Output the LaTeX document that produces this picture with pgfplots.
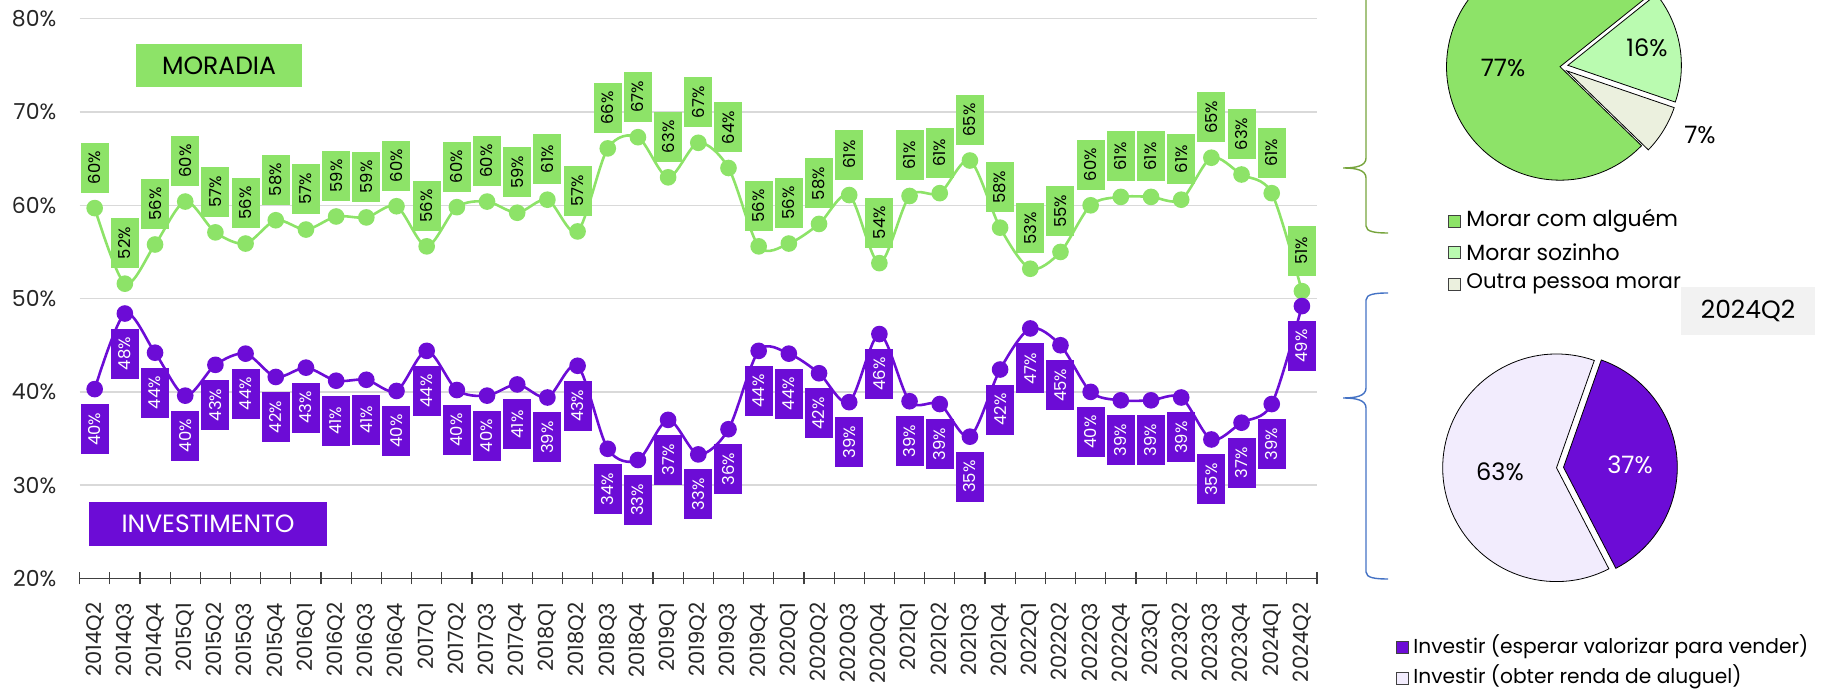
\documentclass[border=0pt]{standalone}
\usepackage{fontspec}
\setmainfont{Poppins}
\usepackage{pgfplots}
\pgfplotsset{compat=1.18}
\usepackage{pgfplotstable}

\definecolor{mgreen}{RGB}{141,227,104}
\definecolor{mpurple}{RGB}{108,12,214}
\definecolor{lgreen}{RGB}{186,251,176}
\definecolor{beige}{RGB}{235,240,222}
\definecolor{lav}{RGB}{242,236,253}
\definecolor{gbr}{RGB}{118,164,60}
\definecolor{bbr}{RGB}{68,114,196}
\definecolor{gridc}{RGB}{217,217,217}
\definecolor{boxg}{RGB}{242,242,242}

\pgfplotstableread{
x mor inv
0 59.7 40.3
1 51.6 48.4
2 55.8 44.2
3 60.4 39.6
4 57.1 42.9
5 55.9 44.1
6 58.4 41.6
7 57.4 42.6
8 58.8 41.2
9 58.7 41.3
10 59.9 40.1
11 55.6 44.4
12 59.8 40.2
13 60.4 39.6
14 59.2 40.8
15 60.6 39.4
16 57.2 42.8
17 66.1 33.9
18 67.3 32.7
19 63.0 37.0
20 66.7 33.3
21 64.0 36.0
22 55.6 44.4
23 55.9 44.1
24 58.0 42.0
25 61.1 38.9
26 53.8 46.2
27 61.0 39.0
28 61.3 38.7
29 64.8 35.2
30 57.6 42.4
31 53.2 46.8
32 55.0 45.0
33 60.0 40.0
34 60.9 39.1
35 60.9 39.1
36 60.6 39.4
37 65.1 34.9
38 63.3 36.7
39 61.3 38.7
40 50.8 49.2
}\data

\begin{document}
\begin{tikzpicture}
\begin{axis}[
  at={(39.8pt,55.75pt)}, anchor=south west,
  scale only axis, width=618.7pt, height=279.9pt,
  xmin=-0.5, xmax=40.5, ymin=20, ymax=80,
  clip=false,
  separate axis lines,
  axis x line*=bottom, axis y line*=left,
  y axis line style={draw=none},
  x axis line style={black!75, line width=0.8pt, -},
  ytick={20,30,...,80},
  yticklabels={20\%,30\%,40\%,50\%,60\%,70\%,80\%},
  ymajorgrids, grid style={gridc, line width=0.7pt},
  ytick style={draw=none},
  yticklabel style={font=\fontsize{11}{12}\selectfont, xshift=-6pt, text=black!85},
  xtick={0,...,40},
  xticklabels={2014Q2,2014Q3,2014Q4,2015Q1,2015Q2,2015Q3,2015Q4,2016Q1,2016Q2,2016Q3,2016Q4,2017Q1,2017Q2,2017Q3,2017Q4,2018Q1,2018Q2,2018Q3,2018Q4,2019Q1,2019Q2,2019Q3,2019Q4,2020Q1,2020Q2,2020Q3,2020Q4,2021Q1,2021Q2,2021Q3,2021Q4,2022Q1,2022Q2,2022Q3,2022Q4,2023Q1,2023Q2,2023Q3,2023Q4,2024Q1,2024Q2},
  xticklabel style={yshift=-6.5pt, rotate=90, anchor=east, font=\fontsize{10.5}{12}\selectfont, text=black!85},
  major x tick style={draw=none},
  minor xtick={-0.5,0.5,...,40.5},
  minor x tick style={black!75, line width=0.6pt},
  minor tick length=6pt, tick align=center,
  /pgf/number format/assume math mode=true,
]
\addplot[mgreen, line width=1.3pt, smooth, tension=0.5,
  mark=*, mark size=3.5pt, mark options={fill=mgreen, draw=mgreen},
  point meta=y,
  nodes near coords={\pgfmathprintnumber[fixed,precision=0]{\pgfplotspointmeta}\%},
  every node near coord/.style={yshift=20.25pt, rotate=90, anchor=center, fill=mgreen, text=black, minimum width=25pt, minimum height=14pt, inner sep=0pt, font=\fontsize{8.2}{9}\selectfont}
] table[x=x, y=mor] {\data};
\addplot[mpurple, line width=1.3pt, smooth, tension=0.5,
  mark=*, mark size=3.5pt, mark options={fill=mpurple, draw=mpurple},
  point meta=y,
  nodes near coords={\pgfmathprintnumber[fixed,precision=0]{\pgfplotspointmeta}\%},
  every node near coord/.style={yshift=-20pt, rotate=90, anchor=center, fill=mpurple, text=white, minimum width=25pt, minimum height=14pt, inner sep=0pt, font=\fontsize{8.2}{9}\selectfont}
] table[x=x, y=inv] {\data};
\end{axis}

% pies (non flipped, pt coordinates)
\def\ra{56.75pt}
\filldraw[fill=mgreen, draw=black, line width=0.4pt] (780pt,311.65pt) -- ++(38.7:\ra) arc[start angle=38.7, end angle=315.9, radius=\ra] -- cycle;
\begin{scope}[shift={(9.9:4pt)}]
\filldraw[fill=lgreen, draw=black, line width=0.4pt] (780pt,311.65pt) -- ++(-18.9:\ra) arc[start angle=-18.9, end angle=38.7, radius=\ra] -- cycle;
\end{scope}
\begin{scope}[shift={(-31.5:4pt)}]
\filldraw[fill=beige, draw=black, line width=0.4pt] (780pt,311.65pt) -- ++(-44.1:\ra) arc[start angle=-44.1, end angle=-18.9, radius=\ra] -- cycle;
\end{scope}
\def\rb{56.9pt}
\filldraw[fill=lav, draw=black, line width=0.4pt] (778.25pt,111.1pt) -- ++(70.6:\rb) arc[start angle=70.6, end angle=297.4, radius=\rb] -- cycle;
\begin{scope}[shift={(4:3.5pt)}]
\filldraw[fill=mpurple, draw=black, line width=0.4pt] (778.25pt,111.1pt) -- ++(-62.6:\rb) arc[start angle=-62.6, end angle=70.6, radius=\rb] -- cycle;
\end{scope}

% flipped scope in full-pixel coordinates
\begin{scope}[shift={(0pt,345pt)}, x=0.5pt, y=-0.5pt]
\fill[mgreen] (136,44.5) rectangle (302,86.6);
\node[font=\fontsize{12.5}{14}\selectfont, text=black] at (219,65.5) {MORADIA};
\fill[mpurple] (89,502) rectangle (327,546);
\node[font=\fontsize{12.5}{14}\selectfont, text=white] at (208,524) {INVESTIMENTO};

% brackets
\draw[gbr, line width=0.7pt] (1366,-20) -- (1366,158) .. controls (1366,166) and (1356,168) .. (1343,168) .. controls (1356,168) and (1366,170) .. (1366,178) -- (1366,226) .. controls (1366,232) and (1376,233) .. (1388,233);
\draw[bbr, line width=0.7pt] (1388,293) .. controls (1376,293) and (1366,294) .. (1366,300) -- (1366,388) .. controls (1366,396) and (1356,398) .. (1343,398) .. controls (1356,398) and (1366,400) .. (1366,408) -- (1366,572) .. controls (1366,578) and (1376,579) .. (1388,579);

% pie labels
\node[font=\fontsize{12}{14}\selectfont] at (1503,68) {77\%};
\node[font=\fontsize{12}{14}\selectfont] at (1647,48) {16\%};
\node[font=\fontsize{12}{14}\selectfont] at (1700,135) {7\%};
\node[font=\fontsize{12}{14}\selectfont] at (1500,472) {63\%};
\node[font=\fontsize{12}{14}\selectfont, text=white] at (1630,465) {37\%};

% legend 1
\filldraw[fill=mgreen, draw=black!75, line width=0.4pt] (1448,215) rectangle (1460,227);
\node[anchor=west, font=\fontsize{11}{13}\selectfont, inner sep=0pt] at (1466,221) {Morar com alguém};
\filldraw[fill=lgreen, draw=black!75, line width=0.4pt] (1448,246) rectangle (1460,258);
\node[anchor=west, font=\fontsize{11}{13}\selectfont, inner sep=0pt] at (1466,252) {Morar sozinho};
\filldraw[fill=beige, draw=black!75, line width=0.4pt] (1448,278) rectangle (1460,290);
\node[anchor=west, font=\fontsize{10.6}{13}\selectfont, inner sep=0pt] at (1466,284) {Outra pessoa morar};

% 2024Q2 box
\fill[boxg] (1681,287) rectangle (1815,335);
\node[font=\fontsize{12.5}{14}\selectfont] at (1748,311) {2024Q2};

% legend 2
\filldraw[fill=mpurple, draw=black!75, line width=0.4pt] (1396,641) rectangle (1408,653);
\node[anchor=west, font=\fontsize{10.1}{12}\selectfont, inner sep=0pt] at (1413,647) {Investir (esperar valorizar para vender)};
\filldraw[fill=lav, draw=black!75, line width=0.4pt] (1396,672) rectangle (1408,684);
\node[anchor=west, font=\fontsize{10.1}{12}\selectfont, inner sep=0pt] at (1413,677) {Investir (obter renda de aluguel)};
\end{scope}

\pgfresetboundingbox
\path[use as bounding box] (0pt,0pt) rectangle (918pt,345pt);
\end{tikzpicture}
\end{document}
